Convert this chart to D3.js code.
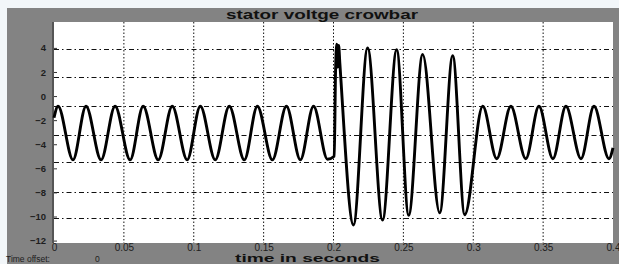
<!DOCTYPE html>
<html>
<head>
<meta charset="utf-8">
<script src="https://cdn.jsdelivr.net/npm/d3@7"></script>
<style>
  body { margin: 0; background: #f2f6f9; }
  svg { display: block; font-family: "Liberation Sans", Arial, sans-serif; }
</style>
</head>
<body>
<div id="chart"></div>
<script>
// tick labels
var xTicks = [0, 0.05, 0.1, 0.15, 0.2, 0.25, 0.3, 0.35, 0.4];
var xTickLabels = ["0", "0.05", "0.1", "0.15", "0.2", "0.25", "0.3", "0.35", "0.4"];
var yTicks = [4, 2, 0, -2, -4, -6, -8, -10, -12];
// horizontal grid lines as they sit in the picture
var yGrid = [3.9, 1.6, -0.8, -3.2, -5.45, -7.95, -10.1];

// stator voltage samples (time in s, voltage)
var timeS = [0, 0.0029, 0.0136, 0.0229, 0.0337, 0.0437, 0.0545, 0.0638, 0.0746, 0.0846,
  0.0953, 0.1047, 0.1154, 0.1254, 0.1362, 0.1455, 0.1563, 0.1663, 0.1763, 0.1857,
  0.1957, 0.2005, 0.2015, 0.2023, 0.2030, 0.2037, 0.2045, 0.2143, 0.2244, 0.2351,
  0.2452, 0.2538, 0.2638, 0.2760, 0.2853, 0.2939, 0.3068, 0.3168, 0.3269, 0.3376,
  0.3470, 0.3570, 0.3663, 0.3771, 0.3864, 0.3971, 0.4];
var voltS = [-1.8, -0.85, -5.3, -0.85, -5.3, -0.85, -5.3, -0.85, -5.3, -0.85,
  -5.3, -0.85, -5.3, -0.85, -5.3, -0.85, -5.3, -0.85, -5.3, -0.85,
  -5.25, -5.0, 2.2, 4.3, 2.4, 4.2, 2.8, -10.7, 4.0, -10.3,
  3.85, -9.9, 3.45, -9.7, 3.35, -9.85, -0.85, -5.2, -0.85, -5.2,
  -0.85, -5.2, -0.85, -5.2, -0.85, -5.2, -4.3];

var W = 619, H = 264;
var plot = {left: 54, right: 613, top: 22, bottom: 243};

var svg = d3.select("#chart").append("svg")
  .attr("width", W)
  .attr("height", H);

// gray scope frame
svg.append("rect")
  .attr("x", 7).attr("y", 8)
  .attr("width", W - 7).attr("height", H - 8)
  .attr("fill", "#838383");

svg.append("rect")
  .attr("x", plot.left).attr("y", plot.top)
  .attr("width", plot.right - plot.left).attr("height", plot.bottom - plot.top)
  .attr("fill", "#ffffff");

svg.append("line")
  .attr("x1", plot.left - 1).attr("x2", plot.left - 1)
  .attr("y1", plot.top).attr("y2", plot.bottom)
  .attr("stroke", "#555").attr("stroke-width", 2);

var x = d3.scaleLinear()
  .domain([0, 0.4])
  .range([plot.left, plot.right]);

var y = d3.scaleLinear()
  .domain([-12.2, 6.15])
  .range([plot.bottom, plot.top]);

// grid
svg.append("g")
  .selectAll("line")
  .data(xTicks.slice(1, -1))
  .enter()
  .append("line")
    .attr("x1", function (d) { return x(d); })
    .attr("x2", function (d) { return x(d); })
    .attr("y1", plot.top)
    .attr("y2", plot.bottom)
    .attr("stroke", "#111")
    .attr("stroke-width", 1)
    .attr("stroke-dasharray", "1.5,2");

svg.append("g")
  .selectAll("line")
  .data(yGrid)
  .enter()
  .append("line")
    .attr("x1", plot.left)
    .attr("x2", plot.right)
    .attr("y1", function (d) { return Math.round(y(d)) + 0.5; })
    .attr("y2", function (d) { return Math.round(y(d)) + 0.5; })
    .attr("stroke", "#111")
    .attr("stroke-width", 1)
    .attr("stroke-dasharray", "5,3,1.5,3");

// axes
var yAxis = svg.append("g")
  .attr("transform", "translate(" + plot.left + ",0)")
  .call(d3.axisLeft(y).tickValues(yTicks).tickSize(-3).tickPadding(8));
yAxis.select(".domain").remove();
yAxis.selectAll("line").attr("stroke", "#333");
yAxis.selectAll("text")
  .attr("fill", "#1e1e1e")
  .style("font-size", "9.5px")
  .style("font-weight", "bold");

var xAxis = svg.append("g")
  .attr("transform", "translate(0," + plot.bottom + ")")
  .call(d3.axisBottom(x).tickValues(xTicks)
    .tickFormat(function (d, i) { return xTickLabels[i]; })
    .tickSize(0).tickPadding(1));
xAxis.select(".domain").remove();
xAxis.selectAll("text")
  .attr("fill", "#1e1e1e")
  .style("font-size", "10px");

// waveform
var line = d3.line()
  .x(function (d) { return x(d); })
  .y(function (d, i) { return y(voltS[i]); })
  .curve(d3.curveMonotoneX);

svg.append("path")
  .datum(timeS)
  .attr("d", line)
  .attr("fill", "none")
  .attr("stroke", "#000")
  .attr("stroke-width", 2.9)
  .attr("stroke-linejoin", "round");

// texts
svg.append("text")
  .attr("x", 226).attr("y", 19)
  .attr("textLength", 192)
  .attr("lengthAdjust", "spacingAndGlyphs")
  .style("font-size", "12px")
  .style("font-weight", "bold")
  .attr("fill", "#111")
  .text("stator voltge crowbar");

svg.append("text")
  .attr("x", 235).attr("y", 262)
  .attr("textLength", 145)
  .attr("lengthAdjust", "spacingAndGlyphs")
  .style("font-size", "11px")
  .style("font-weight", "bold")
  .attr("fill", "#111")
  .text("time in seconds");

svg.append("text")
  .attr("x", 6).attr("y", 262)
  .style("font-size", "8.5px")
  .attr("fill", "#1e1e1e")
  .text("Time offset:");

svg.append("text")
  .attr("x", 95).attr("y", 262)
  .style("font-size", "8.5px")
  .attr("fill", "#1e1e1e")
  .text("0");
</script>
</body>
</html>
